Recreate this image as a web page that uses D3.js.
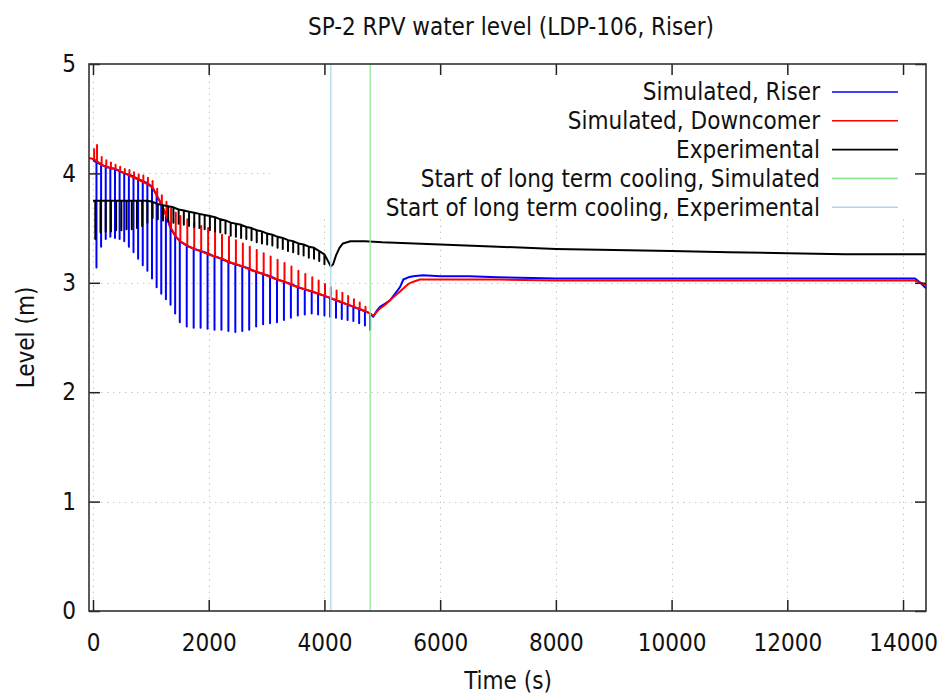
<!DOCTYPE html>
<html>
<head>
<meta charset="utf-8">
<script src="https://cdn.jsdelivr.net/npm/d3@7"></script>
<style>
  body { margin: 0; background: #fff; }
  text { font-family: "DejaVu Sans Condensed", "DejaVu Sans", sans-serif; font-stretch: condensed; fill: #111; }
</style>
</head>
<body>
<div id="chart"></div>
<script>
// chart values

const title = "SP-2 RPV water level (LDP-106, Riser)";
const xLabel = "Time (s)";
const yLabel = "Level (m)";

const xTicks = [0, 2000, 4000, 6000, 8000, 10000, 12000, 14000];
const yTicks = [0, 1, 2, 3, 4, 5];

const seriesNames = [
  "Simulated, Riser",
  "Simulated, Downcomer",
  "Experimental",
  "Start of long term cooling, Simulated",
  "Start of long term cooling, Experimental"
];
const seriesColors = ["#0000ff", "#ff0000", "#000000", "#90ee90", "#add8e6"];

// start of long term cooling (s)
const coolingStartSim = 4790;
const coolingStartExp = 4110;

// riser: [time, level before spike, spike bottom]
const riserSpikes = [
  [60, 4.10, 3.14], [140, 4.08, 3.33], [220, 4.06, 3.40], [300, 4.05, 3.42],
  [380, 4.04, 3.41], [460, 4.02, 3.40], [540, 4.00, 3.38], [620, 3.99, 3.33],
  [700, 3.97, 3.28], [780, 3.95, 3.22], [860, 3.93, 3.16], [940, 3.91, 3.11],
  [1020, 3.88, 3.04], [1100, 3.80, 2.96], [1180, 3.72, 2.90], [1260, 3.62, 2.85],
  [1340, 3.50, 2.80], [1420, 3.43, 2.72], [1500, 3.38, 2.64], [1620, 3.34, 2.60],
  [1740, 3.31, 2.59], [1860, 3.29, 2.59], [1980, 3.27, 2.58], [2100, 3.24, 2.57],
  [2220, 3.22, 2.57], [2340, 3.19, 2.56], [2460, 3.17, 2.55], [2580, 3.15, 2.56],
  [2700, 3.13, 2.57], [2820, 3.10, 2.60], [2940, 3.08, 2.62], [3060, 3.06, 2.63],
  [3180, 3.03, 2.64], [3300, 3.01, 2.66], [3420, 2.99, 2.68], [3540, 2.96, 2.70],
  [3660, 2.94, 2.71], [3780, 2.92, 2.72], [3890, 2.90, 2.71], [4000, 2.88, 2.70],
  [4100, 2.86, 2.69], [4200, 2.84, 2.68], [4300, 2.82, 2.67], [4400, 2.80, 2.66],
  [4500, 2.78, 2.65], [4600, 2.76, 2.63], [4700, 2.74, 2.61], [4790, 2.72, 2.57]
];
// riser after the spikes: [time, level]
const riserTail = [
  [4845, 2.69], [4900, 2.74], [4960, 2.78], [5050, 2.81], [5133, 2.84],
  [5220, 2.90], [5306, 2.96], [5364, 3.03], [5450, 3.05], [5537, 3.06],
  [5700, 3.07], [6000, 3.06], [6500, 3.06], [7000, 3.05], [8000, 3.04],
  [9000, 3.04], [10000, 3.04], [11000, 3.04], [12000, 3.04], [13000, 3.04],
  [14000, 3.04], [14207, 3.04], [14300, 3.00], [14397, 2.95]
];

// downcomer: [time, level before spike, spike top]
const downcomerSpikes = [
  [20, 4.13, 4.22], [70, 4.11, 4.26], [150, 4.08, 4.15], [230, 4.06, 4.12],
  [310, 4.05, 4.10], [390, 4.04, 4.08], [470, 4.02, 4.06], [550, 4.00, 4.04],
  [630, 3.98, 4.03], [710, 3.96, 4.01], [790, 3.94, 3.99], [870, 3.92, 3.98],
  [950, 3.90, 3.96], [1030, 3.87, 3.93], [1110, 3.79, 3.86], [1190, 3.71, 3.80],
  [1270, 3.61, 3.74], [1350, 3.50, 3.68], [1430, 3.42, 3.64], [1510, 3.38, 3.61],
  [1630, 3.34, 3.58], [1750, 3.31, 3.55], [1870, 3.29, 3.52], [1990, 3.26, 3.50],
  [2110, 3.24, 3.47], [2230, 3.22, 3.44], [2350, 3.19, 3.42], [2470, 3.17, 3.39],
  [2590, 3.15, 3.36], [2710, 3.12, 3.33], [2830, 3.10, 3.30], [2950, 3.08, 3.27],
  [3070, 3.05, 3.24], [3190, 3.03, 3.21], [3310, 3.01, 3.18], [3430, 2.98, 3.15],
  [3550, 2.96, 3.11], [3670, 2.94, 3.08], [3790, 2.92, 3.05], [3900, 2.90, 3.02],
  [4010, 2.88, 2.99], [4110, 2.86, 2.96], [4210, 2.84, 2.93], [4310, 2.82, 2.91],
  [4410, 2.80, 2.88], [4510, 2.78, 2.85], [4610, 2.76, 2.82], [4710, 2.74, 2.78]
];
const downcomerTail = [
  [4845, 2.70], [4950, 2.76], [5050, 2.80], [5150, 2.85], [5306, 2.92],
  [5450, 2.99], [5537, 3.01], [5652, 3.03], [6000, 3.03], [7000, 3.03],
  [8000, 3.02], [9000, 3.02], [10000, 3.02], [11000, 3.02], [12000, 3.02],
  [13000, 3.02], [14000, 3.02], [14207, 3.02], [14300, 3.00], [14397, 2.98]
];

// experimental: [time, level before dip, dip bottom]
const expTeeth = [
  [40, 3.75, 3.40], [130, 3.75, 3.46], [220, 3.75, 3.47], [310, 3.75, 3.47],
  [400, 3.75, 3.48], [490, 3.75, 3.48], [580, 3.75, 3.49], [670, 3.75, 3.49],
  [760, 3.75, 3.50], [850, 3.75, 3.52], [940, 3.75, 3.55], [1030, 3.74, 3.59],
  [1120, 3.72, 3.58], [1210, 3.71, 3.57], [1300, 3.70, 3.56], [1390, 3.69, 3.55],
  [1480, 3.67, 3.54], [1570, 3.66, 3.53], [1660, 3.65, 3.52], [1750, 3.64, 3.51],
  [1840, 3.63, 3.50], [1930, 3.62, 3.49], [2020, 3.61, 3.48], [2110, 3.60, 3.47],
  [2200, 3.58, 3.46], [2290, 3.57, 3.45], [2380, 3.55, 3.43], [2470, 3.54, 3.42],
  [2560, 3.53, 3.41], [2650, 3.51, 3.40], [2740, 3.50, 3.39], [2830, 3.48, 3.37],
  [2920, 3.47, 3.36], [3010, 3.45, 3.35], [3100, 3.44, 3.34], [3190, 3.42, 3.32],
  [3280, 3.41, 3.31], [3370, 3.39, 3.29], [3460, 3.38, 3.28], [3550, 3.36, 3.26],
  [3640, 3.35, 3.25], [3730, 3.33, 3.23], [3820, 3.32, 3.22], [3910, 3.29, 3.20],
  [4000, 3.26, 3.17]
];
const expTail = [
  [4110, 3.15], [4150, 3.17], [4200, 3.25], [4260, 3.32], [4320, 3.36],
  [4450, 3.38], [4700, 3.38], [5000, 3.37], [6000, 3.35], [7000, 3.33],
  [8000, 3.31], [9000, 3.30], [10000, 3.29], [11000, 3.28], [12000, 3.27],
  [13000, 3.26], [14000, 3.26], [14397, 3.26]
];

// ---- layout
const width = 946, height = 698;
const margin = {top: 64, right: 20, bottom: 87, left: 89};

const svg = d3.select("#chart")
  .append("svg")
  .attr("width", width)
  .attr("height", height)
  .attr("viewBox", [0, 0, width, height]);

const xScale = d3.scaleLinear()
  .domain([-69, 14397])
  .range([margin.left, width - margin.right]);

const yScale = d3.scaleLinear()
  .domain([0, 5])
  .range([height - margin.bottom, margin.top]);

// grid (dotted)
const grid = svg.append("g")
  .attr("stroke", "#c8c8c8")
  .attr("stroke-width", 1)
  .attr("stroke-dasharray", "1.5,4.5");
grid.selectAll(".gx")
  .data(xTicks)
  .enter()
  .append("line")
    .attr("x1", d => Math.round(xScale(d)) + 0.5)
    .attr("x2", d => Math.round(xScale(d)) + 0.5)
    .attr("y1", yScale(0))
    .attr("y2", yScale(5));
grid.selectAll(".gy")
  .data(yTicks.filter(d => d > 0 && d < 5))
  .enter()
  .append("line")
    .attr("x1", xScale.range()[0])
    .attr("x2", xScale.range()[1])
    .attr("y1", d => Math.round(yScale(d)) + 0.5)
    .attr("y2", d => Math.round(yScale(d)) + 0.5);

// opaque key box hides grid behind the legend
svg.append("rect")
  .attr("x", 270)
  .attr("y", margin.top)
  .attr("width", width - margin.right - 270)
  .attr("height", 154)
  .attr("fill", "#fff");

// build point lists from the arrays
const riserPts = [[0, 4.12]];
riserSpikes.forEach(s => { riserPts.push([s[0], s[1]], [s[0], s[2]], [s[0], s[1]]); });
riserTail.forEach(p => riserPts.push(p));

const downPts = [[-69, 4.14]];
downcomerSpikes.forEach(s => { downPts.push([s[0], s[1]], [s[0], s[2]], [s[0], s[1]]); });
downcomerTail.forEach(p => downPts.push(p));

const expPts = [[0, 3.75]];
expTeeth.forEach(s => { expPts.push([s[0], s[1]], [s[0], s[2]], [s[0], s[1]]); });
expTail.forEach(p => expPts.push(p));

const line = d3.line()
  .x(d => xScale(d[0]))
  .y(d => yScale(d[1]));

const plot = svg.append("g");
[[riserPts, seriesColors[0]], [downPts, seriesColors[1]], [expPts, seriesColors[2]]].forEach(s => {
  plot.append("path")
    .datum(s[0])
    .attr("fill", "none")
    .attr("stroke", s[1])
    .attr("stroke-width", 2)
    .attr("stroke-linejoin", "round")
    .attr("d", line);
});

// vertical markers
[[coolingStartSim, seriesColors[3]], [coolingStartExp, seriesColors[4]]].forEach(m => {
  plot.append("line")
    .attr("x1", xScale(m[0]))
    .attr("x2", xScale(m[0]))
    .attr("y1", yScale(0))
    .attr("y2", yScale(5))
    .attr("stroke", m[1])
    .attr("stroke-width", 1.3);
});

// axes, ticks pointing inward
const tickLen = 11;
const axisFont = "24px";

svg.append("g")
  .attr("transform", `translate(0,${yScale(0)})`)
  .call(d3.axisBottom(xScale).tickValues(xTicks).tickFormat(d3.format("d"))
    .tickSizeInner(-tickLen).tickSizeOuter(0).tickPadding(23))
  .call(g => g.select(".domain").remove())
  .attr("font-size", axisFont);

svg.append("g")
  .attr("transform", `translate(0,${yScale(5)})`)
  .call(d3.axisTop(xScale).tickValues(xTicks).tickSizeInner(-tickLen).tickSizeOuter(0).tickFormat(""))
  .call(g => g.select(".domain").remove());

svg.append("g")
  .attr("transform", `translate(${xScale.range()[0]},0)`)
  .call(d3.axisLeft(yScale).tickValues(yTicks).tickFormat(d3.format("d"))
    .tickSizeInner(-tickLen).tickSizeOuter(0).tickPadding(13))
  .call(g => g.select(".domain").remove())
  .attr("font-size", axisFont);

svg.append("g")
  .attr("transform", `translate(${xScale.range()[1]},0)`)
  .call(d3.axisRight(yScale).tickValues(yTicks).tickSizeInner(-tickLen).tickSizeOuter(0).tickFormat(""))
  .call(g => g.select(".domain").remove());

svg.selectAll(".tick line").attr("stroke", "#222").attr("stroke-width", 1.5);
svg.selectAll(".tick text").attr("fill", "#111").attr("font-family", null);

// frame
svg.append("rect")
  .attr("x", xScale.range()[0])
  .attr("y", yScale(5))
  .attr("width", xScale.range()[1] - xScale.range()[0])
  .attr("height", yScale(0) - yScale(5))
  .attr("fill", "none")
  .attr("stroke", "#333")
  .attr("stroke-width", 1.6);

// legend
const legend = svg.append("g");
seriesNames.forEach((name, i) => {
  const yy = 92 + i * 28.8;
  legend.append("text")
    .attr("x", 820)
    .attr("y", yy)
    .attr("dy", "0.35em")
    .attr("text-anchor", "end")
    .attr("font-size", "24px")
    .text(name);
  legend.append("line")
    .attr("x1", 832)
    .attr("x2", 898)
    .attr("y1", yy)
    .attr("y2", yy)
    .attr("stroke", seriesColors[i])
    .attr("stroke-width", 1.6);
});

// titles
svg.append("text")
  .attr("x", 511)
  .attr("y", 35)
  .attr("text-anchor", "middle")
  .attr("font-size", "24px")
  .text(title);

svg.append("text")
  .attr("x", 508)
  .attr("y", 689)
  .attr("text-anchor", "middle")
  .attr("font-size", "24px")
  .text(xLabel);

svg.append("text")
  .attr("transform", `translate(34,${(yScale(0) + yScale(5)) / 2}) rotate(-90)`)
  .attr("text-anchor", "middle")
  .attr("font-size", "24px")
  .text(yLabel);
</script>
</body>
</html>
